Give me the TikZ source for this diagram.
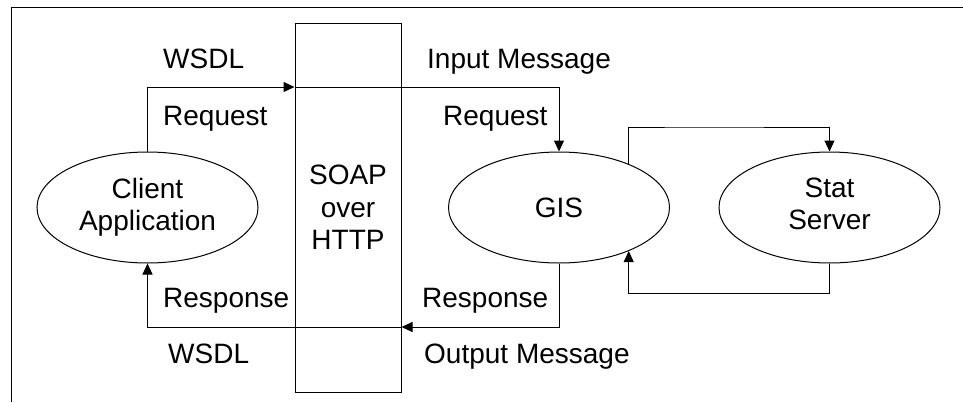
\documentclass[tikz,border=0pt]{standalone}
\usepackage{fontspec}
\setmainfont{Liberation Sans}
\usetikzlibrary{arrows.meta,shapes.geometric}
\tikzset{
  every picture/.style={x=1pt,y=-1pt},
  ln/.style={draw=black,line width=1pt},
  arr/.style={ln,-{Triangle[length=11pt,width=10pt]}},
  proc/.style={ln,ellipse,inner sep=0pt,minimum width=221pt,minimum height=111pt,align=center,font=\fontsize{28}{32}\selectfont},
  lbl/.style={anchor=base west,inner sep=0pt,font=\fontsize{28}{32}\selectfont},
  wire/.style={ln,rectangle,inner sep=0pt,minimum width=106pt,minimum height=369pt,align=center,font=\fontsize{28}{32.5}\selectfont}
}
\begin{document}
\begin{tikzpicture}
\useasboundingbox (0,0) rectangle (963,402);
\fill[white] (0,0) rectangle (963,402);
% frame
\draw[ln] (963,7) -- (11,7) -- (11,402);
% nodes
\node[proc] (client) at (147.5,207.5) {Client\\Application};
\node[wire] (soap) at (348,207.5) {SOAP\\over\\HTTP};
\node[proc] (gis) at (559,207.5) {GIS};
\node[proc] (stat) at (829.5,207.5) {\raisebox{3pt}{\begin{tabular}{@{}c@{}}Stat\\Server\end{tabular}}};
% helper coordinates
\coordinate (ytop) at (0,87);
\coordinate (ybot) at (0,327);
\coordinate (yup) at (700,127);
\coordinate (ydn) at (700,293.5);
% connectors
\draw[arr] (client.north) |- (soap.west |- ytop);
\draw[arr] (soap.west |- ytop) -| (gis.north);
\draw[arr] (gis.south) |- (soap.east |- ybot);
\draw[arr] (soap.east |- ybot) -| (client.south);
\draw[arr] (gis.32) |- (yup) -| (stat.north);
\draw[arr] (stat.south) |- (ydn) -| (gis.-32);
% labels
\node[lbl] (l1) at (163,68) {WSDL};
\node[lbl] (l2) at (163,125) {Request};
\node[lbl] (l3) at (427,68) {Input Message};
\node[lbl] (l4) at (443,125) {Request};
\node[lbl] (l5) at (163,307) {Response};
\node[lbl] (l6) at (168,363) {WSDL};
\node[lbl] (l7) at (422,307) {Response};
\node[lbl] (l8) at (424,363) {Output Message};
\end{tikzpicture}
\end{document}
